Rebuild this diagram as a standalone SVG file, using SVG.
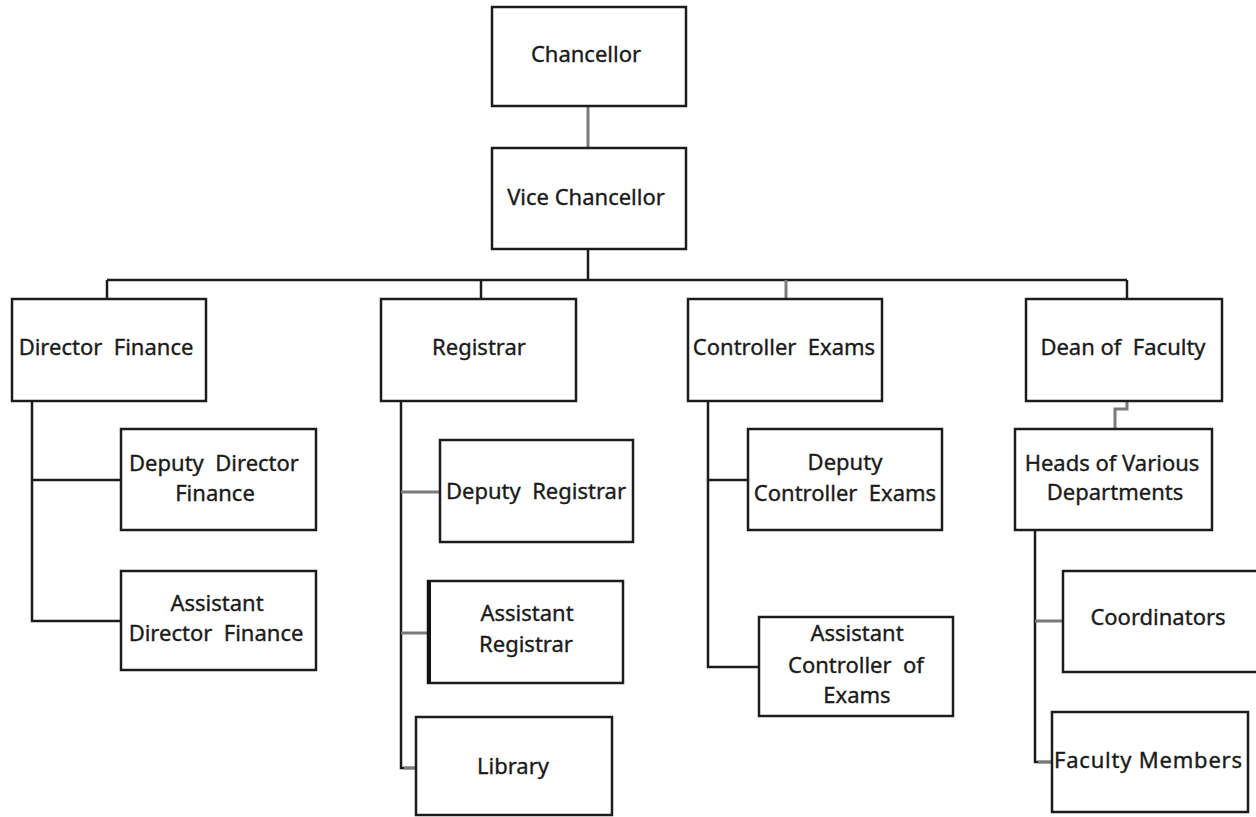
<svg xmlns="http://www.w3.org/2000/svg" width="1256" height="817" viewBox="0 0 1256 817">
<style>
.box{fill:#fff;stroke:#1c1c1c;stroke-width:2.5}
.t{font-family:"Noto Sans","Liberation Sans",sans-serif;font-size:22px;fill:#1a1a1a;stroke:#1a1a1a;stroke-width:0.35;text-anchor:middle;white-space:pre}
.k{fill:none;stroke:#1c1c1c;stroke-width:2.5}
.g{fill:none;stroke:#7a7a7a;stroke-width:3}
</style>
<rect width="1256" height="817" fill="#fff"/>
<g id="connectors">
<line class="g" x1="588" y1="106" x2="588" y2="148"/>
<line class="k" x1="588" y1="249" x2="588" y2="280"/>
<line class="k" x1="107" y1="280" x2="1127" y2="280"/>
<line class="k" x1="107" y1="280" x2="107" y2="299"/>
<line class="k" x1="481" y1="280" x2="481" y2="299"/>
<line class="g" x1="786" y1="280" x2="786" y2="299"/>
<line class="k" x1="1127" y1="280" x2="1127" y2="299"/>
<polyline class="k" points="32,401 32,621 121,621"/>
<line class="k" x1="32" y1="480" x2="121" y2="480"/>
<polyline class="k" points="401,401 401,768 416,768"/>
<line class="g" x1="401" y1="492" x2="440" y2="492"/>
<line class="g" x1="401" y1="633" x2="428" y2="633"/>
<line class="g" x1="404" y1="768" x2="416" y2="768"/>
<polyline class="k" points="708,401 708,667 759,667"/>
<line class="k" x1="708" y1="480" x2="748" y2="480"/>
<polyline class="g" points="1127,401 1127,409 1115,409 1115,429"/>
<polyline class="k" points="1035,530 1035,762 1052,762"/>
<line class="g" x1="1035" y1="621" x2="1063" y2="621"/>
<line class="g" x1="1038" y1="762" x2="1052" y2="762"/>
</g>
<g id="chancellor"><rect class="box" x="492" y="7" width="194" height="99"/><text class="t" x="586" y="62">Chancellor</text></g>
<g id="vice-chancellor"><rect class="box" x="492" y="148" width="194" height="101"/><text class="t" x="586" y="205">Vice Chancellor</text></g>
<g id="director-finance"><rect class="box" x="12" y="299" width="194" height="102"/><text class="t" x="106" y="355">Director  Finance</text></g>
<g id="registrar"><rect class="box" x="381" y="299" width="195" height="102"/><text class="t" x="479" y="355">Registrar</text></g>
<g id="controller-exams"><rect class="box" x="688" y="299" width="194" height="102"/><text class="t" x="784" y="355">Controller  Exams</text></g>
<g id="dean-of-faculty"><rect class="box" x="1026" y="299" width="196" height="102"/><text class="t" x="1123" y="355">Dean of  Faculty</text></g>
<g id="deputy-director-finance"><rect class="box" x="121" y="429" width="195" height="101"/><text class="t" x="214" y="471">Deputy  Director</text><text class="t" x="215" y="501">Finance</text></g>
<g id="assistant-director-finance"><rect class="box" x="121" y="571" width="195" height="99"/><text class="t" x="217" y="611">Assistant</text><text class="t" x="216" y="641">Director  Finance</text></g>
<g id="deputy-registrar"><rect class="box" x="440" y="440" width="193" height="102"/><text class="t" x="536" y="499">Deputy  Registrar</text></g>
<g id="assistant-registrar"><rect class="box" x="428" y="581" width="195" height="102"/><line x1="429" y1="581" x2="429" y2="683" stroke="#111" stroke-width="4"/><text class="t" x="527" y="621">Assistant</text><text class="t" x="526" y="652">Registrar</text></g>
<g id="library"><rect class="box" x="416" y="717" width="196" height="98"/><text class="t" x="513" y="774">Library</text></g>
<g id="deputy-controller-exams"><rect class="box" x="748" y="429" width="194" height="101"/><text class="t" x="845" y="470">Deputy</text><text class="t" x="845" y="501">Controller  Exams</text></g>
<g id="assistant-controller-exams"><rect class="box" x="759" y="617" width="194" height="99"/><text class="t" x="857" y="641">Assistant</text><text class="t" x="856" y="673">Controller  of</text><text class="t" x="857" y="703">Exams</text></g>
<g id="heads-of-departments"><rect class="box" x="1015" y="429" width="197" height="101"/><text class="t" x="1112" y="471">Heads of Various</text><text class="t" x="1115" y="500">Departments</text></g>
<g id="coordinators"><rect class="box" x="1063" y="571" width="200" height="101"/><text class="t" x="1158" y="625">Coordinators</text></g>
<g id="faculty-members"><rect class="box" x="1052" y="712" width="196" height="100"/><text class="t" x="1148" y="768" textLength="188" lengthAdjust="spacing">Faculty Members</text></g>
</svg>
